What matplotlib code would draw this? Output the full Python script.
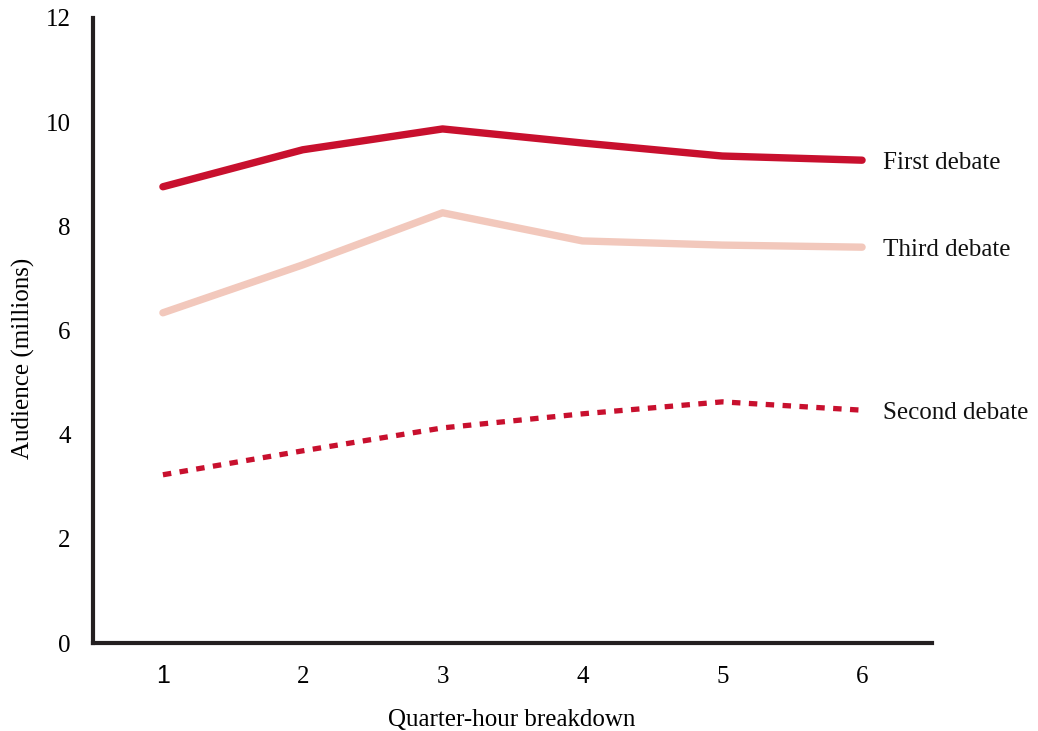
import matplotlib
matplotlib.use("Agg")
import matplotlib.pyplot as plt

quarters = [1, 2, 3, 4, 5, 6]
first_debate = [8.76, 9.47, 9.87, 9.60, 9.35, 9.27]
third_debate = [6.34, 7.26, 8.26, 7.72, 7.64, 7.60]
second_debate = [3.23, 3.69, 4.13, 4.40, 4.63, 4.47]
series_labels = ["First debate", "Third debate", "Second debate"]
y_ticks = [0, 2, 4, 6, 8, 10, 12]

plt.rcParams['font.family'] = ['Liberation Serif', 'DejaVu Serif']

fig = plt.figure(figsize=(10.38, 7.31), dpi=100)
ax = fig.add_axes([93/1038, 1-643/731, (932-93)/1038, (643-18)/731])

crimson = "#C8102E"
pink = "#F2C8BC"

ax.plot(quarters, third_debate, color=pink, lw=5.3, solid_capstyle='round', solid_joinstyle='round')
ax.plot(quarters, first_debate, color=crimson, lw=5.3, solid_capstyle='round', solid_joinstyle='round')
ax.plot(quarters, second_debate, color=crimson, lw=3.8, linestyle=(0, (1.6, 1.6)), dash_capstyle='butt')

ends = [first_debate[-1], third_debate[-1], second_debate[-1]]
for lab, yv in zip(series_labels, ends):
    ax.annotate(lab, (6, yv), xytext=(21, -3), textcoords='offset pixels',
                fontsize=18, va='center', ha='left', color='#111111')

ax.set_xlim(0.5, 6.5)
ax.set_ylim(0, 12)
ax.set_xticks(quarters)
ax.set_xticklabels([str(q) for q in quarters], fontsize=18)
for t in ax.get_xticklabels():
    t.set_va('baseline')
ax.get_xticklabels()[0].set_fontfamily(['Liberation Sans', 'DejaVu Sans'])
ax.set_yticks(y_ticks)
ax.set_yticklabels([str(t) for t in y_ticks], fontsize=18)
ax.tick_params(length=0)
ax.tick_params(axis='x', pad=29)
ax.tick_params(axis='y', pad=16)

for s in ['top', 'right']:
    ax.spines[s].set_visible(False)
for s in ['left', 'bottom']:
    ax.spines[s].set_linewidth(3)
    ax.spines[s].set_color('#231F20')

ax.set_xlabel("Quarter-hour breakdown", fontsize=18)
ax.set_ylabel("Audience (millions)", fontsize=18)
ax.xaxis.set_label_coords((512 - 93) / 839, -(720 - 643) / 625)
ax.yaxis.set_label_coords((23 - 93) / 839, (643 - 358) / 625)
ax.xaxis.label.set_va('center')
ax.yaxis.label.set_va('center')

fig.savefig("out.png", dpi=100)
